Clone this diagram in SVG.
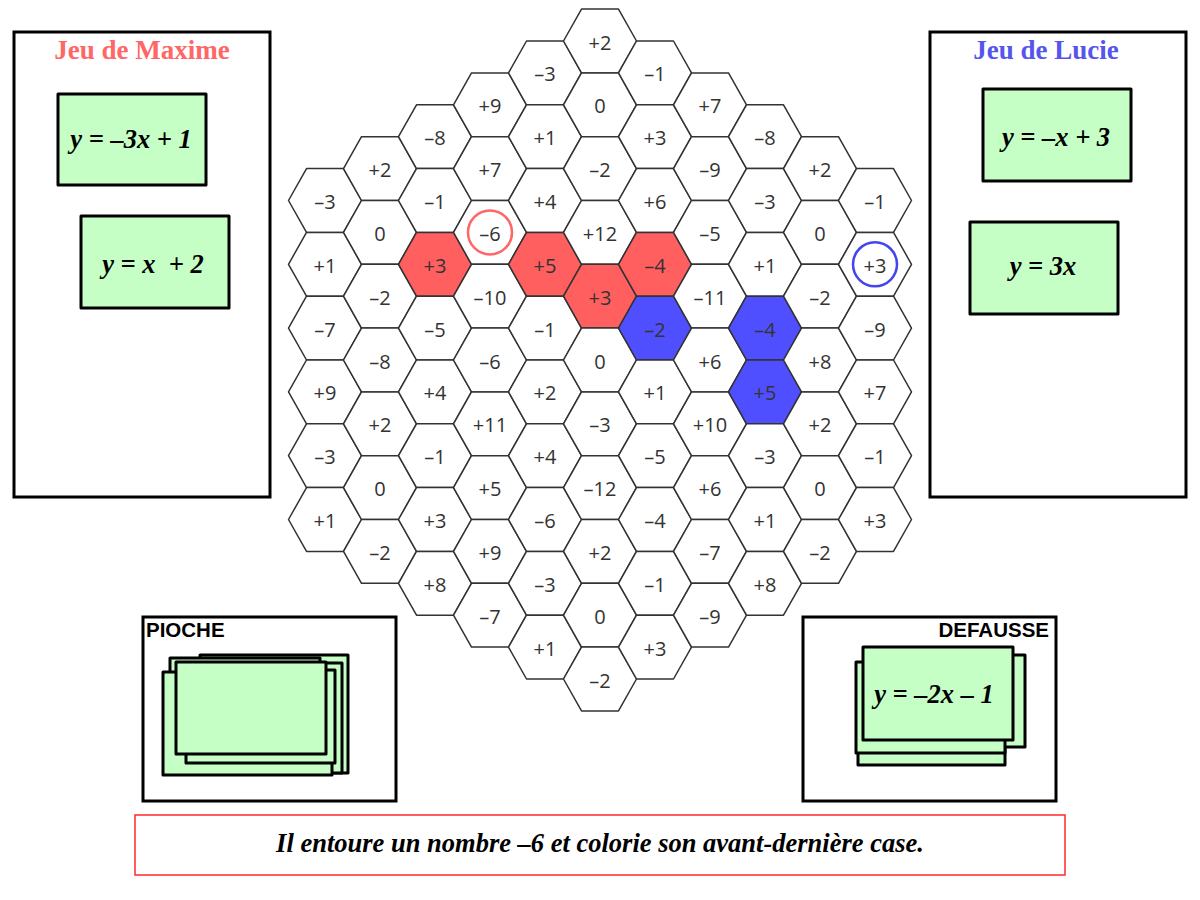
<svg xmlns="http://www.w3.org/2000/svg" xmlns:xlink="http://www.w3.org/1999/xlink" width="1200" height="900" viewBox="0 0 1200 900">
<style>
.hx{fill:#ffffff;stroke:#333333;stroke-width:1.5;stroke-linejoin:round}
.red{fill:#ff5f5f}
.blue{fill:#4f4fff}
.n{font-family:"Open Sans","Noto Sans",sans-serif;font-size:20px;fill:#333333;text-anchor:middle}
.panel{fill:#ffffff;stroke:#000000;stroke-width:3}
.card{fill:#c6ffc6;stroke:#000000;stroke-width:3;stroke-linejoin:round}
.eq{font-family:"Liberation Serif","Times New Roman",serif;font-weight:bold;font-style:italic;font-size:26.5px;fill:#000000;text-anchor:middle}
.title{font-family:"Liberation Serif","Times New Roman",serif;font-weight:bold;font-size:27px;text-anchor:middle}
.lbl{font-family:"Liberation Sans",Arial,sans-serif;font-weight:bold;font-size:20.5px;fill:#000000}
</style>
<defs>
<path id="hex" d="M-36.5,0 L-18.5,-31.9 L18.5,-31.9 L36.5,0 L18.5,31.9 L-18.5,31.9 Z"/>
</defs>
<rect width="1200" height="900" fill="#ffffff"/>

<g id="board">
<!-- column 0 -->
<g id="h0-0" transform="translate(325,200.5)"><use href="#hex" class="hx"/><text class="n" y="8.5">–3</text></g>
<g id="h0-1" transform="translate(325,264.3)"><use href="#hex" class="hx"/><text class="n" y="8.5">+1</text></g>
<g id="h0-2" transform="translate(325,328.1)"><use href="#hex" class="hx"/><text class="n" y="8.5">–7</text></g>
<g id="h0-3" transform="translate(325,391.9)"><use href="#hex" class="hx"/><text class="n" y="8.5">+9</text></g>
<g id="h0-4" transform="translate(325,455.7)"><use href="#hex" class="hx"/><text class="n" y="8.5">–3</text></g>
<g id="h0-5" transform="translate(325,519.5)"><use href="#hex" class="hx"/><text class="n" y="8.5">+1</text></g>
<!-- column 1 -->
<g id="h1-0" transform="translate(380,168.6)"><use href="#hex" class="hx"/><text class="n" y="8.5">+2</text></g>
<g id="h1-1" transform="translate(380,232.4)"><use href="#hex" class="hx"/><text class="n" y="8.5">0</text></g>
<g id="h1-2" transform="translate(380,296.2)"><use href="#hex" class="hx"/><text class="n" y="8.5">–2</text></g>
<g id="h1-3" transform="translate(380,360)"><use href="#hex" class="hx"/><text class="n" y="8.5">–8</text></g>
<g id="h1-4" transform="translate(380,423.8)"><use href="#hex" class="hx"/><text class="n" y="8.5">+2</text></g>
<g id="h1-5" transform="translate(380,487.6)"><use href="#hex" class="hx"/><text class="n" y="8.5">0</text></g>
<g id="h1-6" transform="translate(380,551.4)"><use href="#hex" class="hx"/><text class="n" y="8.5">–2</text></g>
<!-- column 2 -->
<g id="h2-0" transform="translate(435,136.7)"><use href="#hex" class="hx"/><text class="n" y="8.5">–8</text></g>
<g id="h2-1" transform="translate(435,200.5)"><use href="#hex" class="hx"/><text class="n" y="8.5">–1</text></g>
<g id="h2-2" transform="translate(435,264.3)"><use href="#hex" class="hx red"/><text class="n" y="8.5">+3</text></g>
<g id="h2-3" transform="translate(435,328.1)"><use href="#hex" class="hx"/><text class="n" y="8.5">–5</text></g>
<g id="h2-4" transform="translate(435,391.9)"><use href="#hex" class="hx"/><text class="n" y="8.5">+4</text></g>
<g id="h2-5" transform="translate(435,455.7)"><use href="#hex" class="hx"/><text class="n" y="8.5">–1</text></g>
<g id="h2-6" transform="translate(435,519.5)"><use href="#hex" class="hx"/><text class="n" y="8.5">+3</text></g>
<g id="h2-7" transform="translate(435,583.3)"><use href="#hex" class="hx"/><text class="n" y="8.5">+8</text></g>
<!-- column 3 -->
<g id="h3-0" transform="translate(490,104.8)"><use href="#hex" class="hx"/><text class="n" y="8.5">+9</text></g>
<g id="h3-1" transform="translate(490,168.6)"><use href="#hex" class="hx"/><text class="n" y="8.5">+7</text></g>
<g id="h3-2" transform="translate(490,232.4)"><use href="#hex" class="hx"/><text class="n" y="8.5">–6</text><circle r="22" fill="none" stroke="#ff6666" stroke-width="2.5"/></g>
<g id="h3-3" transform="translate(490,296.2)"><use href="#hex" class="hx"/><text class="n" y="8.5">–10</text></g>
<g id="h3-4" transform="translate(490,360)"><use href="#hex" class="hx"/><text class="n" y="8.5">–6</text></g>
<g id="h3-5" transform="translate(490,423.8)"><use href="#hex" class="hx"/><text class="n" y="8.5">+11</text></g>
<g id="h3-6" transform="translate(490,487.6)"><use href="#hex" class="hx"/><text class="n" y="8.5">+5</text></g>
<g id="h3-7" transform="translate(490,551.4)"><use href="#hex" class="hx"/><text class="n" y="8.5">+9</text></g>
<g id="h3-8" transform="translate(490,615.2)"><use href="#hex" class="hx"/><text class="n" y="8.5">–7</text></g>
<!-- column 4 -->
<g id="h4-0" transform="translate(545,72.9)"><use href="#hex" class="hx"/><text class="n" y="8.5">–3</text></g>
<g id="h4-1" transform="translate(545,136.7)"><use href="#hex" class="hx"/><text class="n" y="8.5">+1</text></g>
<g id="h4-2" transform="translate(545,200.5)"><use href="#hex" class="hx"/><text class="n" y="8.5">+4</text></g>
<g id="h4-3" transform="translate(545,264.3)"><use href="#hex" class="hx red"/><text class="n" y="8.5">+5</text></g>
<g id="h4-4" transform="translate(545,328.1)"><use href="#hex" class="hx"/><text class="n" y="8.5">–1</text></g>
<g id="h4-5" transform="translate(545,391.9)"><use href="#hex" class="hx"/><text class="n" y="8.5">+2</text></g>
<g id="h4-6" transform="translate(545,455.7)"><use href="#hex" class="hx"/><text class="n" y="8.5">+4</text></g>
<g id="h4-7" transform="translate(545,519.5)"><use href="#hex" class="hx"/><text class="n" y="8.5">–6</text></g>
<g id="h4-8" transform="translate(545,583.3)"><use href="#hex" class="hx"/><text class="n" y="8.5">–3</text></g>
<g id="h4-9" transform="translate(545,647.1)"><use href="#hex" class="hx"/><text class="n" y="8.5">+1</text></g>
<!-- column 5 -->
<g id="h5-0" transform="translate(600,41)"><use href="#hex" class="hx"/><text class="n" y="8.5">+2</text></g>
<g id="h5-1" transform="translate(600,104.8)"><use href="#hex" class="hx"/><text class="n" y="8.5">0</text></g>
<g id="h5-2" transform="translate(600,168.6)"><use href="#hex" class="hx"/><text class="n" y="8.5">–2</text></g>
<g id="h5-3" transform="translate(600,232.4)"><use href="#hex" class="hx"/><text class="n" y="8.5">+12</text></g>
<g id="h5-4" transform="translate(600,296.2)"><use href="#hex" class="hx red"/><text class="n" y="8.5">+3</text></g>
<g id="h5-5" transform="translate(600,360)"><use href="#hex" class="hx"/><text class="n" y="8.5">0</text></g>
<g id="h5-6" transform="translate(600,423.8)"><use href="#hex" class="hx"/><text class="n" y="8.5">–3</text></g>
<g id="h5-7" transform="translate(600,487.6)"><use href="#hex" class="hx"/><text class="n" y="8.5">–12</text></g>
<g id="h5-8" transform="translate(600,551.4)"><use href="#hex" class="hx"/><text class="n" y="8.5">+2</text></g>
<g id="h5-9" transform="translate(600,615.2)"><use href="#hex" class="hx"/><text class="n" y="8.5">0</text></g>
<g id="h5-10" transform="translate(600,679)"><use href="#hex" class="hx"/><text class="n" y="8.5">–2</text></g>
<!-- column 6 -->
<g id="h6-0" transform="translate(655,72.9)"><use href="#hex" class="hx"/><text class="n" y="8.5">–1</text></g>
<g id="h6-1" transform="translate(655,136.7)"><use href="#hex" class="hx"/><text class="n" y="8.5">+3</text></g>
<g id="h6-2" transform="translate(655,200.5)"><use href="#hex" class="hx"/><text class="n" y="8.5">+6</text></g>
<g id="h6-3" transform="translate(655,264.3)"><use href="#hex" class="hx red"/><text class="n" y="8.5">–4</text></g>
<g id="h6-4" transform="translate(655,328.1)"><use href="#hex" class="hx blue"/><text class="n" y="8.5">–2</text></g>
<g id="h6-5" transform="translate(655,391.9)"><use href="#hex" class="hx"/><text class="n" y="8.5">+1</text></g>
<g id="h6-6" transform="translate(655,455.7)"><use href="#hex" class="hx"/><text class="n" y="8.5">–5</text></g>
<g id="h6-7" transform="translate(655,519.5)"><use href="#hex" class="hx"/><text class="n" y="8.5">–4</text></g>
<g id="h6-8" transform="translate(655,583.3)"><use href="#hex" class="hx"/><text class="n" y="8.5">–1</text></g>
<g id="h6-9" transform="translate(655,647.1)"><use href="#hex" class="hx"/><text class="n" y="8.5">+3</text></g>
<!-- column 7 -->
<g id="h7-0" transform="translate(710,104.8)"><use href="#hex" class="hx"/><text class="n" y="8.5">+7</text></g>
<g id="h7-1" transform="translate(710,168.6)"><use href="#hex" class="hx"/><text class="n" y="8.5">–9</text></g>
<g id="h7-2" transform="translate(710,232.4)"><use href="#hex" class="hx"/><text class="n" y="8.5">–5</text></g>
<g id="h7-3" transform="translate(710,296.2)"><use href="#hex" class="hx"/><text class="n" y="8.5">–11</text></g>
<g id="h7-4" transform="translate(710,360)"><use href="#hex" class="hx"/><text class="n" y="8.5">+6</text></g>
<g id="h7-5" transform="translate(710,423.8)"><use href="#hex" class="hx"/><text class="n" y="8.5">+10</text></g>
<g id="h7-6" transform="translate(710,487.6)"><use href="#hex" class="hx"/><text class="n" y="8.5">+6</text></g>
<g id="h7-7" transform="translate(710,551.4)"><use href="#hex" class="hx"/><text class="n" y="8.5">–7</text></g>
<g id="h7-8" transform="translate(710,615.2)"><use href="#hex" class="hx"/><text class="n" y="8.5">–9</text></g>
<!-- column 8 -->
<g id="h8-0" transform="translate(765,136.7)"><use href="#hex" class="hx"/><text class="n" y="8.5">–8</text></g>
<g id="h8-1" transform="translate(765,200.5)"><use href="#hex" class="hx"/><text class="n" y="8.5">–3</text></g>
<g id="h8-2" transform="translate(765,264.3)"><use href="#hex" class="hx"/><text class="n" y="8.5">+1</text></g>
<g id="h8-3" transform="translate(765,328.1)"><use href="#hex" class="hx blue"/><text class="n" y="8.5">–4</text></g>
<g id="h8-4" transform="translate(765,391.9)"><use href="#hex" class="hx blue"/><text class="n" y="8.5">+5</text></g>
<g id="h8-5" transform="translate(765,455.7)"><use href="#hex" class="hx"/><text class="n" y="8.5">–3</text></g>
<g id="h8-6" transform="translate(765,519.5)"><use href="#hex" class="hx"/><text class="n" y="8.5">+1</text></g>
<g id="h8-7" transform="translate(765,583.3)"><use href="#hex" class="hx"/><text class="n" y="8.5">+8</text></g>
<!-- column 9 -->
<g id="h9-0" transform="translate(820,168.6)"><use href="#hex" class="hx"/><text class="n" y="8.5">+2</text></g>
<g id="h9-1" transform="translate(820,232.4)"><use href="#hex" class="hx"/><text class="n" y="8.5">0</text></g>
<g id="h9-2" transform="translate(820,296.2)"><use href="#hex" class="hx"/><text class="n" y="8.5">–2</text></g>
<g id="h9-3" transform="translate(820,360)"><use href="#hex" class="hx"/><text class="n" y="8.5">+8</text></g>
<g id="h9-4" transform="translate(820,423.8)"><use href="#hex" class="hx"/><text class="n" y="8.5">+2</text></g>
<g id="h9-5" transform="translate(820,487.6)"><use href="#hex" class="hx"/><text class="n" y="8.5">0</text></g>
<g id="h9-6" transform="translate(820,551.4)"><use href="#hex" class="hx"/><text class="n" y="8.5">–2</text></g>
<!-- column 10 -->
<g id="h10-0" transform="translate(875,200.5)"><use href="#hex" class="hx"/><text class="n" y="8.5">–1</text></g>
<g id="h10-1" transform="translate(875,264.3)"><use href="#hex" class="hx"/><text class="n" y="8.5">+3</text><circle r="22" fill="none" stroke="#4444ee" stroke-width="2.5"/></g>
<g id="h10-2" transform="translate(875,328.1)"><use href="#hex" class="hx"/><text class="n" y="8.5">–9</text></g>
<g id="h10-3" transform="translate(875,391.9)"><use href="#hex" class="hx"/><text class="n" y="8.5">+7</text></g>
<g id="h10-4" transform="translate(875,455.7)"><use href="#hex" class="hx"/><text class="n" y="8.5">–1</text></g>
<g id="h10-5" transform="translate(875,519.5)"><use href="#hex" class="hx"/><text class="n" y="8.5">+3</text></g>
</g>

<g id="connectors"></g>

<g id="maxime">
<rect class="panel" x="14" y="32" width="256" height="465"/>
<text class="title" x="142" y="59" fill="#ff6666">Jeu de Maxime</text>
<rect class="card" x="58" y="94" width="148" height="91"/>
<text class="eq" x="131" y="148">y = –3x + 1</text>
<rect class="card" x="81" y="216" width="148" height="92"/>
<text class="eq" x="153" y="273" xml:space="preserve">y = x  + 2</text>
</g>

<g id="lucie">
<rect class="panel" x="930" y="32" width="256" height="465"/>
<text class="title" x="1046" y="59" fill="#5555ee">Jeu de Lucie</text>
<rect class="card" x="983" y="89" width="148" height="92"/>
<text class="eq" x="1056" y="146">y = –x + 3</text>
<rect class="card" x="970" y="222" width="148" height="92"/>
<text class="eq" x="1043" y="275">y = 3x</text>
</g>

<g id="pioche">
<rect class="panel" x="143" y="617" width="253" height="184"/>
<text class="lbl" x="146" y="637">PIOCHE</text>
<rect class="card" x="200" y="655" width="148" height="118"/>
<rect class="card" x="170" y="658" width="150" height="95"/>
<rect class="card" x="190" y="663" width="152" height="110"/>
<rect class="card" x="163" y="672" width="169" height="103"/>
<rect class="card" x="186" y="670" width="149" height="93"/>
<rect class="card" x="176" y="662" width="150" height="92"/>
</g>

<g id="defausse">
<rect class="panel" x="803" y="617" width="253" height="184"/>
<text class="lbl" x="1049" y="637" text-anchor="end">DEFAUSSE</text>
<rect class="card" x="858" y="673" width="147" height="92"/>
<rect class="card" x="877" y="655" width="148" height="92"/>
<rect class="card" x="856" y="662" width="149" height="91"/>
<rect class="card" x="863" y="647" width="150" height="93"/>
<text class="eq" x="934" y="703">y = –2x – 1</text>
</g>

<g id="message">
<rect x="135" y="815" width="930" height="60" fill="#ffffff" stroke="#ff2a2a" stroke-width="1.5"/>
<text class="eq" x="600" y="852" font-size="26">Il entoure un nombre –6 et colorie son avant-dernière case.</text>
</g>
</svg>
